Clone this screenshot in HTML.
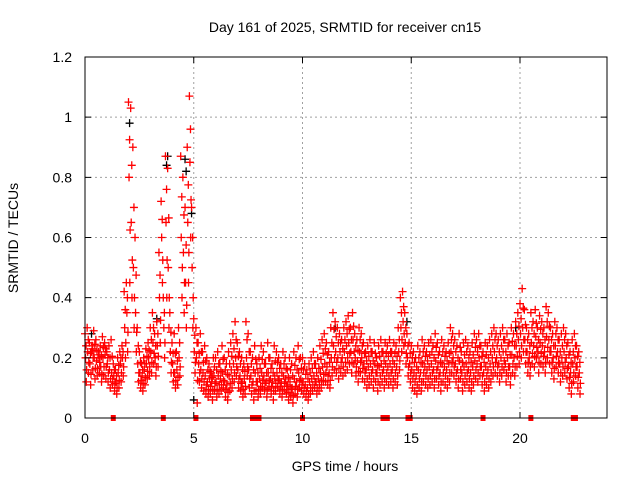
<!DOCTYPE html>
<html><head><meta charset="utf-8"><style>
body{margin:0;background:#fff;}
svg{display:block;font-family:"Liberation Sans",sans-serif;}
</style></head><body>
<svg id="chart" width="640" height="480" viewBox="0 0 640 480">
<rect width="640" height="480" fill="#fff"/>
<text x="345" y="32" font-size="14" text-anchor="middle">Day 161 of 2025, SRMTID for receiver cn15</text>
<text x="345" y="471" font-size="14" text-anchor="middle">GPS time / hours</text>
<text transform="translate(18,238) rotate(-90)" font-size="14" text-anchor="middle">SRMTID / TECUs</text>
<g id="grid"></g>
<g id="marks"></g>
<rect x="85" y="57" width="522" height="361" fill="none" stroke="#000" stroke-width="1"/>
<g id="ticks"></g>
</svg>
<script>
const xTicks=[0,5,10,15,20];
const yTicks=[0,0.2,0.4,0.6,0.8,1,1.2];
const yTickLabels=["0","0.2","0.4","0.6","0.8","1","1.2"];
const v1=[.28,.30,.25,.22,.29,.26,.20,.24,.27,.25,.22,.24,.26,.18,.16,.20,.22,.24,.42,.45,1.05,1.03,.90,.60,.30,.22,.18,.20,.23,.25,.30,.35,.28,.32,.55,.72,.40,.87,.83,.35,.25,.28,.22,.30,.87,.80,.70,.90,1.07,.70,.33,.30,.25,.28,.22,.24,.20,.18,.15,.20,.20,.22,.18,.24,.20,.18,.22,.25,.28,.32,.25,.22,.20,.18,.32,.28,.22,.20,.24,.18,.20,.24,.22,.18,.25,.20,.18,.24,.22,.20,.18,.22,.20,.16,.20,.18,.22,.20,.24,.20,.20,.18,.16,.18,.20,.22,.18,.20,.24,.26,.28,.25,.22,.30,.35,.32,.30,.28,.26,.30,.32,.34,.30,.35,.28,.26,.30,.28,.25,.22,.24,.26,.22,.25,.20,.24,.26,.22,.25,.24,.26,.22,.25,.24,.30,.40,.42,.35,.28,.25,.24,.22,.20,.24,.22,.26,.24,.22,.25,.26,.24,.28,.25,.22,.26,.24,.22,.25,.30,.28,.26,.24,.28,.22,.25,.26,.24,.22,.25,.28,.26,.28,.24,.22,.25,.24,.26,.28,.30,.28,.26,.28,.30,.26,.28,.25,.30,.28,.32,.35,.38,.43,.36,.30,.28,.35,.32,.36,.30,.34,.32,.30,.37,.35,.30,.28,.32,.30,.26,.28,.30,.28,.25,.22,.26,.28,.24,.22];
const v2=[.20,.22,.18,.24,.20,.19,.22,.17,.20,.21,.18,.16,.15,.14,.12,.15,.18,.20,.30,.35,.80,.65,.50,.35,.18,.15,.14,.16,.18,.20,.22,.25,.20,.24,.40,.60,.30,.65,.50,.22,.18,.15,.16,.20,.60,.55,.45,.65,.85,.50,.22,.20,.18,.16,.15,.14,.12,.13,.12,.14,.12,.14,.13,.15,.12,.11,.14,.16,.18,.20,.16,.14,.12,.13,.20,.16,.14,.12,.15,.12,.13,.15,.14,.12,.15,.13,.12,.14,.15,.13,.12,.14,.13,.11,.12,.10,.13,.12,.15,.13,.12,.11,.10,.12,.13,.14,.12,.13,.15,.17,.18,.17,.15,.20,.24,.22,.20,.22,.20,.22,.24,.25,.22,.26,.20,.19,.22,.20,.18,.16,.17,.18,.16,.18,.15,.17,.18,.16,.18,.17,.18,.16,.18,.17,.22,.30,.32,.25,.20,.18,.16,.15,.14,.16,.15,.18,.17,.16,.17,.18,.16,.19,.17,.15,.18,.17,.16,.18,.22,.20,.18,.16,.19,.15,.17,.18,.16,.15,.17,.19,.18,.20,.17,.15,.17,.16,.18,.20,.22,.20,.18,.20,.22,.18,.20,.17,.21,.20,.24,.26,.28,.30,.26,.22,.20,.25,.24,.27,.22,.25,.24,.22,.27,.26,.22,.20,.24,.22,.18,.20,.22,.20,.17,.15,.18,.20,.17,.15];
const v3=[.12,.15,.11,.16,.13,.14,.15,.12,.14,.13,.12,.10,.11,.09,.08,.10,.12,.14,.20,.22,.45,.40,.30,.22,.12,.10,.09,.11,.13,.14,.15,.18,.14,.17,.25,.45,.20,.40,.30,.15,.12,.10,.11,.14,.40,.35,.30,.45,.60,.30,.15,.05,.12,.10,.09,.08,.07,.08,.06,.09,.07,.08,.09,.10,.07,.06,.09,.10,.12,.14,.10,.09,.07,.08,.14,.10,.08,.06,.09,.07,.08,.10,.09,.07,.10,.08,.06,.09,.10,.08,.07,.09,.08,.06,.07,.05,.08,.07,.10,.09,.08,.07,.06,.08,.09,.10,.08,.09,.10,.12,.12,.11,.10,.14,.16,.15,.13,.15,.14,.15,.16,.18,.15,.18,.14,.12,.15,.13,.12,.10,.11,.12,.10,.12,.09,.11,.12,.10,.12,.11,.12,.10,.12,.11,.16,.22,.24,.18,.14,.12,.10,.09,.08,.10,.09,.12,.11,.10,.11,.12,.10,.13,.11,.09,.12,.11,.10,.12,.15,.14,.12,.10,.13,.09,.11,.12,.10,.09,.11,.13,.12,.14,.11,.09,.11,.10,.12,.14,.15,.14,.12,.14,.16,.12,.14,.11,.15,.14,.17,.18,.20,.22,.18,.15,.14,.18,.17,.20,.15,.18,.17,.15,.20,.18,.15,.13,.17,.15,.12,.14,.15,.13,.10,.08,.12,.14,.10,.08];
const blackT=[2.05,3.8,3.75,4.6,4.65,4.9,5.0,3.3,11.5,14.8,19.8,0.3];
const blackV=[0.98,0.87,0.84,0.86,0.82,0.68,0.06,0.33,0.30,0.32,0.30,0.28];
const markerT=[1.3,3.6,5.1,7.7,7.8,8.0,10.0,13.7,13.9,14.85,14.95,18.3,20.5,22.45,22.55];

const X=t=>85+t*(522/24), Y=v=>418-v*(361/1.2);
const NS="http://www.w3.org/2000/svg";
const grid=document.getElementById('grid'),marks=document.getElementById('marks'),ticks=document.getElementById('ticks');
function mk(tag,attrs,parent){const e=document.createElementNS(NS,tag);for(const k in attrs)e.setAttribute(k,attrs[k]);parent.appendChild(e);return e;}
xTicks.forEach(t=>{
  if(t>0){const g=mk('line',{x1:X(t),x2:X(t),y1:57,y2:418,stroke:'#a0a0a0','stroke-dasharray':'2,3'},grid);
  
  }
  const tk=mk('path',{d:`M${X(t)},418v-6M${X(t)},57v6`,stroke:'#000'},ticks);
  
  
  const lb=mk('text',{x:X(t),y:443,'font-size':'14','text-anchor':'middle'},ticks);lb.textContent=t;
  
  
});
yTicks.forEach((v,i)=>{
  if(v>0&&v<1.2){const g=mk('line',{x1:85,x2:607,y1:Y(v),y2:Y(v),stroke:'#a0a0a0','stroke-dasharray':'2,3'},grid);
  
  }
  const tk=mk('path',{d:`M85,${Y(v)}h6M607,${Y(v)}h-6`,stroke:'#000'},ticks);
  
  
  const lb=mk('text',{x:72,y:Y(v)+5,'font-size':'14','text-anchor':'end'},ticks);lb.textContent=yTickLabels[i];
  
  
});
function cross(t,v,col){const x=X(t),y=Y(v);
  const p=mk('path',{d:`M${x-4},${y}h8M${x},${y-4}v8`,stroke:col,'stroke-width':1.3},marks);
  
  }
blackT.forEach((t,i)=>cross(t,blackV[i],'#000'));
v1.forEach((v,i)=>{const t=i*0.1;cross(t,v,'#f00');cross(t+0.05,(v+v2[i])/2,'#f00');});
v2.forEach((v,i)=>{cross(i*0.1+0.025,v,'#f00');cross(i*0.1+0.075,(v+v3[i])/2,'#f00');});
v3.forEach((v,i)=>cross(i*0.1+0.06,v,'#f00'));
markerT.forEach(t=>{const r=mk('rect',{x:X(t)-2.5,y:415,width:5,height:6,fill:'#f00'},marks);
  
  });
</script>
</body></html>
